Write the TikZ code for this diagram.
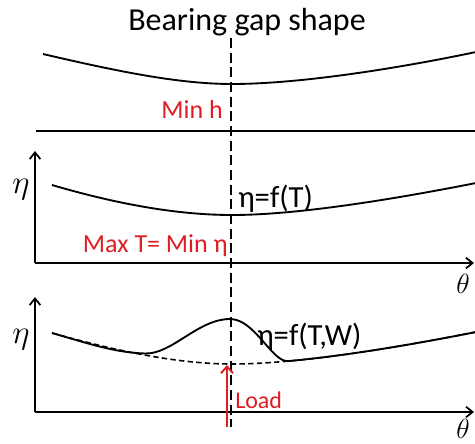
\documentclass[tikz,border=0pt]{standalone}
\usepackage{fontspec}
\setmainfont{Carlito}
\usetikzlibrary{arrows.meta}
\definecolor{lred}{RGB}{222,30,36}
\begin{document}
\begin{tikzpicture}[x=0.75pt,y=-0.75pt,
  curve/.style={line width=1.4pt},
  axis/.style={line width=1.3pt,-{Straight Barb[length=5pt,width=8pt,line width=1.3pt]}},
  redtxt/.style={text=lred,font=\fontsize{19.5}{23}\selectfont,inner sep=0pt},
  blktxt/.style={font=\fontsize{23}{27}\selectfont,inner sep=0pt},
  mathlbl/.style={inner sep=0pt,font=\fontsize{23}{27}\selectfont},
  thetalbl/.style={inner sep=0pt,font=\fontsize{22}{26}\selectfont}]
\useasboundingbox (0,0) rectangle (475,443);
% title
\node[inner sep=0pt,anchor=base,font=\fontsize{24}{28}\selectfont] (title) at (247,30) {Bearing gap shape};
% vertical dashed centre line
\coordinate (vtop) at (231,38);
\coordinate (vbot) at (231,427);
\draw[line width=2.2pt,dash pattern=on 7.5pt off 3.5pt] (vtop) -- (vbot);
% panel 1
\draw[curve] (43,54) .. controls (120,72) and (180,84) .. (232,84) .. controls (300,84) and (400,68) .. (476,52);
\draw[curve] (36,131) -- (476,131);
\node[redtxt,anchor=base east] (minh) at (223,118) {Min h};
% panel 2
\coordinate (o2) at (35,263);
\coordinate (y2) at (35,151);
\coordinate (x2) at (474,263);
\draw[axis] (o2) -- (y2);
\draw[axis] (o2) -- (x2);
\node[mathlbl] (eta2) at (21,190) {$\eta$};
\node[thetalbl] (th2) at (463,284) {$\theta$};
\draw[curve] (52,185) .. controls (120,205) and (180,215) .. (232,215) .. controls (300,215) and (400,198) .. (476,183);
\node[blktxt,anchor=base west] (f1) at (238,207) {η=f(T)};
\node[redtxt,anchor=base east] (maxt) at (228,252) {Max T= Min η};
% panel 3
\coordinate (o3) at (35,412);
\coordinate (y3) at (35,297);
\coordinate (x3) at (474,412);
\draw[axis] (o3) -- (y3);
\draw[axis] (o3) -- (x3);
\node[mathlbl] (eta3) at (21,340) {$\eta$};
\node[thetalbl] (th3) at (463,429) {$\theta$};
\draw[line width=1.2pt,dash pattern=on 4pt off 2.5pt] (52,333) .. controls (120,352) and (180,364) .. (232,364) .. controls (300,364) and (400,347) .. (476,332);
\draw[curve] (52,333) .. controls (90,344) and (115,352.5) .. (145,353.5)
  .. controls (172,354.4) and (198,319) .. (230,319)
  .. controls (255,319) and (272,362.5) .. (288.1,361.1)
  .. controls (348.5,355.63) and (419,343.25) .. (476,332);
\node[blktxt,anchor=base west] (f2) at (257,345) {η=f(T,W)};
\coordinate (ltail) at (227,427);
\coordinate (lhead) at (227,365);
\draw[lred,line width=1.5pt,-{Straight Barb[length=5pt,width=9pt,line width=1.5pt]}] (ltail) -- (lhead);
\node[redtxt,anchor=base west,font=\fontsize{18}{22}\selectfont] (load) at (235,408) {Load};
\end{tikzpicture}
\end{document}
